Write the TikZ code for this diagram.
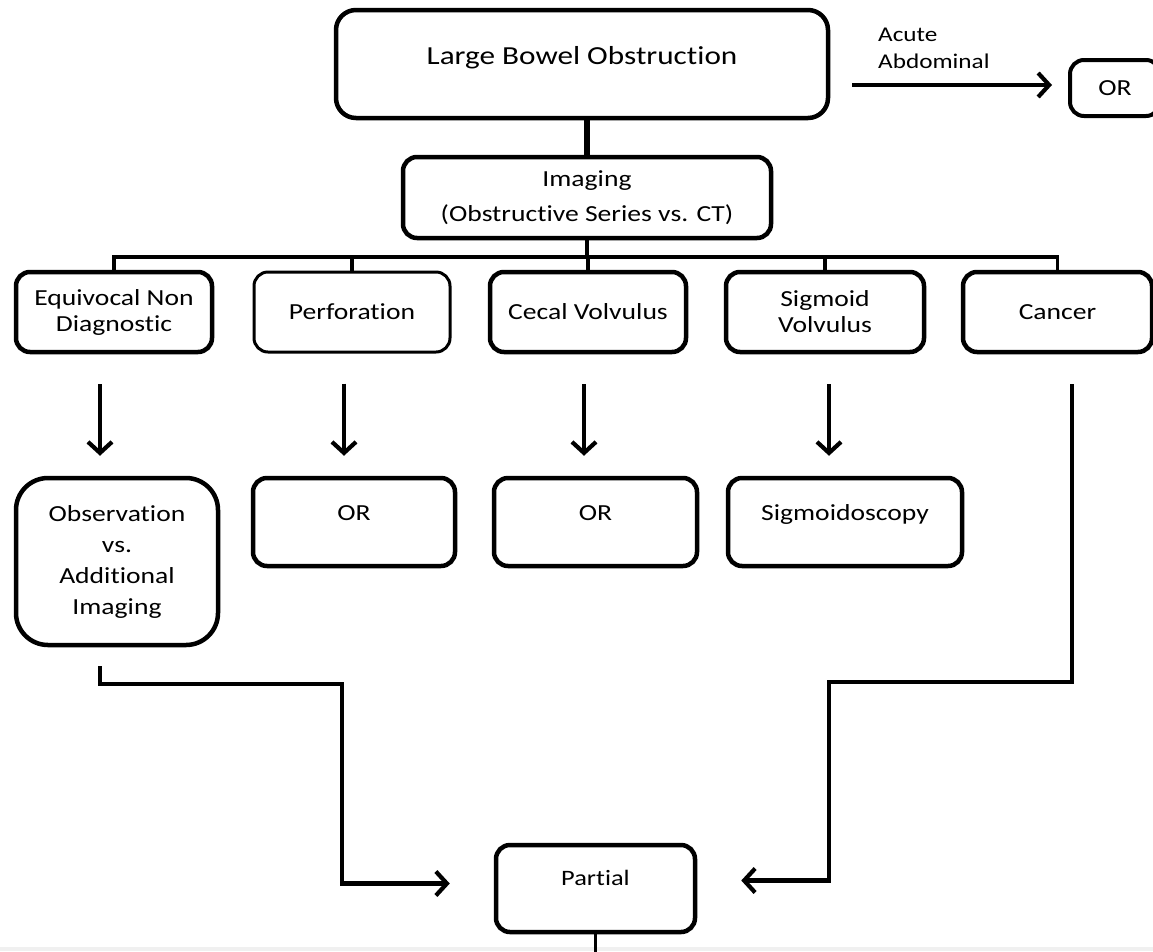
\documentclass[tikz,border=0pt]{standalone}
\usepackage{fontspec}
\setmainfont{Carlito}[FakeStretch=1.2, Ligatures={NoCommon,NoContextual}, RawFeature={-liga;-clig;-calt;-dlig}]
\usetikzlibrary{arrows.meta}

% keep t and i apart (no ti ligature)
\newcommand{\tI}{t\kern0pt i}

\tikzset{
  flowbox/.style={draw, line width=4.5pt, rounded corners=14pt, align=center,
    inner sep=0pt, font=\fontsize{23}{26}\selectfont},
  topbox/.style={flowbox, text height=17pt, text depth=21pt},
  bus/.style={line width=3.8pt},
  arr/.style={line width=4.2pt, -{Straight Barb[length=11pt,width=24pt]}},
}

\begin{document}
\begin{tikzpicture}[x=1pt, y=-1pt]
	\useasboundingbox (0,0) rectangle (1153,951);
	\fill[gray!12] (0,947) rectangle (1153,951);

	% top row
	\node[flowbox, rounded corners=20pt, minimum width=492pt, minimum height=108pt,
		text height=18pt, text depth=18pt, font=\fontsize{26}{30}\selectfont] (lbo) at (582,64) {Large Bowel Obstruc\tI on};
	\node[flowbox, line width=4pt, minimum width=90pt, minimum height=56pt] (or1) at (1115,88) {OR};
	\node[anchor=west, align=left, inner sep=0pt, font=\fontsize{21}{27}\selectfont] (acute) at (878,48) {Acute\\Abdominal};
	\node[flowbox, minimum width=368pt, minimum height=81pt, font=\fontsize{23}{35}\selectfont] (img) at (587,197.5) {Imaging\\(Obstruc\tI ve Series vs. CT)};

	% findings
	\node[flowbox, minimum width=196pt, minimum height=80pt] (eq) at (114,312) {Equivocal Non\\Diagnos\tI c};
	\node[flowbox, line width=3pt, minimum width=196pt, minimum height=80pt] (perf) at (352,312) {Perfora\tI on};
	\node[flowbox, minimum width=196pt, minimum height=80pt] (cecal) at (588,312) {Cecal Volvulus};
	\node[flowbox, minimum width=198pt, minimum height=80pt] (sig) at (825,312) {Sigmoid\\Volvulus};
	\node[flowbox, minimum width=189pt, minimum height=80pt] (canc) at (1057.5,312) {Cancer};

	% management
	\node[flowbox, rounded corners=32pt, minimum width=202pt, minimum height=167pt,
		font=\fontsize{23}{31}\selectfont] (obs) at (117,561.5) {Observa\tI on\\vs.\\Addi\tI onal\\Imaging};
	\node[topbox, minimum width=202pt, minimum height=88pt] (or2) at (354,522) {OR};
	\node[topbox, minimum width=203pt, minimum height=88pt] (or3) at (595.5,522) {OR};
	\node[topbox, minimum width=234pt, minimum height=88pt] (sigm) at (845,522) {Sigmoidoscopy};
	\node[topbox, minimum width=199pt, minimum height=87pt, text depth=24pt,
		font=\fontsize{22}{26}\selectfont] (part) at (595.5,888.5) {Par\tI al};

	% connectors
	\draw[arr, shorten <=22pt, shorten >=16pt] ([yshift=-21pt]lbo.east) -- ([yshift=3pt]or1.west);
	\draw[line width=5.5pt] (img.north) -- (img.north |- lbo.south);

	\coordinate (bus) at ([yshift=-17pt]img.south);
	\draw[bus] (eq.north) |- (bus) -| (canc.north);
	\draw[bus] (img.south) -- (bus);
	\foreach \n in {perf,cecal,sig}
	{
		\draw[bus] (\n.north) -- (\n.north |- bus);
	}

	\foreach \a/\b/\dxa/\dxb in {eq/obs/-14/-17, perf/or2/-8/-10, cecal/or3/-4/-11.5, sig/sigm/4/-16}
	{
		\draw[arr] ([xshift=\dxa pt,yshift=-30pt]\a.south) -- ([xshift=\dxb pt,yshift=20pt]\b.north);
	}

	\draw[arr] ([xshift=-17pt,yshift=-19pt]obs.south) -- ++(0,18) -- ++(242,0) |- ([xshift=-44pt,yshift=5pt]part.west);
	\draw[arr] ([xshift=14.5pt,yshift=-30pt]canc.south) -- ++(0,298) -- ++(-243,0) |- ([xshift=44pt,yshift=8pt]part.east);
	\draw[bus] (part.south) -- ++(0,25);
\end{tikzpicture}
\end{document}
